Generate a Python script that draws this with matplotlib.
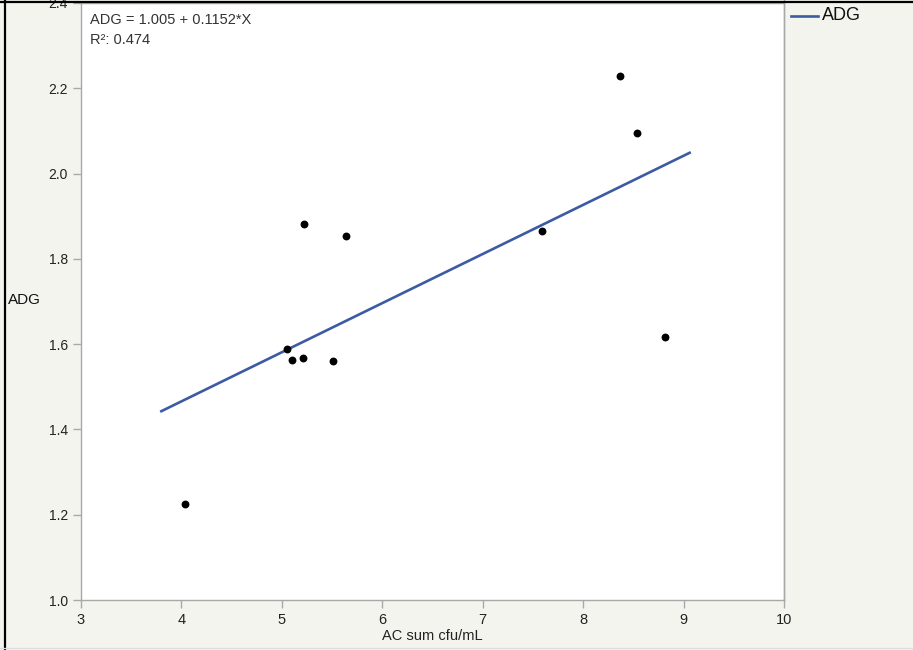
import matplotlib
matplotlib.use("Agg")
import matplotlib.pyplot as plt
from matplotlib.lines import Line2D
import numpy as np

# Data
ac_sum = [4.04, 5.22, 5.64, 5.05, 5.10, 5.21, 5.51, 7.59, 8.37, 8.54, 8.82]
adg = [1.224, 1.882, 1.854, 1.588, 1.563, 1.568, 1.560, 1.865, 2.229, 2.094, 1.617]
intercept = 1.005
slope = 0.1152
fit_x_range = [3.8, 9.06]
x_ticks = [3, 4, 5, 6, 7, 8, 9, 10]
y_ticks = [1.0, 1.2, 1.4, 1.6, 1.8, 2.0, 2.2, 2.4]

plt.rcParams['font.family'] = ['Liberation Sans', 'DejaVu Sans']

W, H = 913, 650
fig = plt.figure(figsize=(W / 100, H / 100), dpi=100)
fig.patch.set_facecolor('#f4f4ef')

ax = fig.add_axes([81 / W, 1 - 600 / H, (784 - 81) / W, (600 - 3) / H])
ax.set_facecolor('white')
ax.set_xlim(3, 10)
ax.set_ylim(1.0, 2.4)

fx = np.array(fit_x_range)
ax.plot(fx, intercept + slope * fx, color='#3c5ba3', lw=1.9, zorder=2)
ax.scatter(ac_sum, adg, s=32, color='black', zorder=3, linewidths=0)

ax.set_xticks(x_ticks)
ax.set_yticks(y_ticks)
ax.set_yticklabels([f"{v:.1f}" for v in y_ticks])
for s in ax.spines.values():
    s.set_color('#a8a8a8')
    s.set_linewidth(1)
ax.tick_params(axis='both', colors='#a8a8a8', labelcolor='#222222', length=6, width=1)
ax.tick_params(axis='y', labelsize=10)
ax.tick_params(axis='x', labelsize=10.5)

ax.set_xlabel('AC sum cfu/mL', fontsize=10.5, color='#222222', labelpad=1)
fig.text(8 / W, 1 - 300 / H, 'ADG', fontsize=11, color='#111111', va='center', ha='left')

ax.text(90 / W, 1 - 20 / H, 'ADG = 1.005 + 0.1152*X', transform=fig.transFigure,
        fontsize=10.5, color='#333333', va='center', ha='left')
ax.text(90 / W, 1 - 40 / H, 'R\u00b2: 0.474', transform=fig.transFigure,
        fontsize=10.5, color='#333333', va='center', ha='left')

# right divider
fig.add_artist(Line2D([784 / W, 784 / W], [1 - 600 / H, 1], color='#a8a8a8', lw=1))
# legend
fig.add_artist(Line2D([791 / W, 818 / W], [1 - 16 / H, 1 - 16 / H], color='#3c5ba3', lw=1.9))
fig.text(822 / W, 1 - 16 / H, 'ADG', fontsize=13, color='#111111', va='center', ha='left')

# frame borders
fig.add_artist(Line2D([4.5 / W, 4.5 / W], [0, 1], color='black', lw=1.6))
fig.add_artist(Line2D([0, 1], [1 - 1.5 / H, 1 - 1.5 / H], color='black', lw=1.6))
fig.add_artist(Line2D([0, 1], [1 - 648 / H, 1 - 648 / H], color='#dddddd', lw=1))

fig.savefig('out.png', dpi=100, facecolor=fig.get_facecolor())
